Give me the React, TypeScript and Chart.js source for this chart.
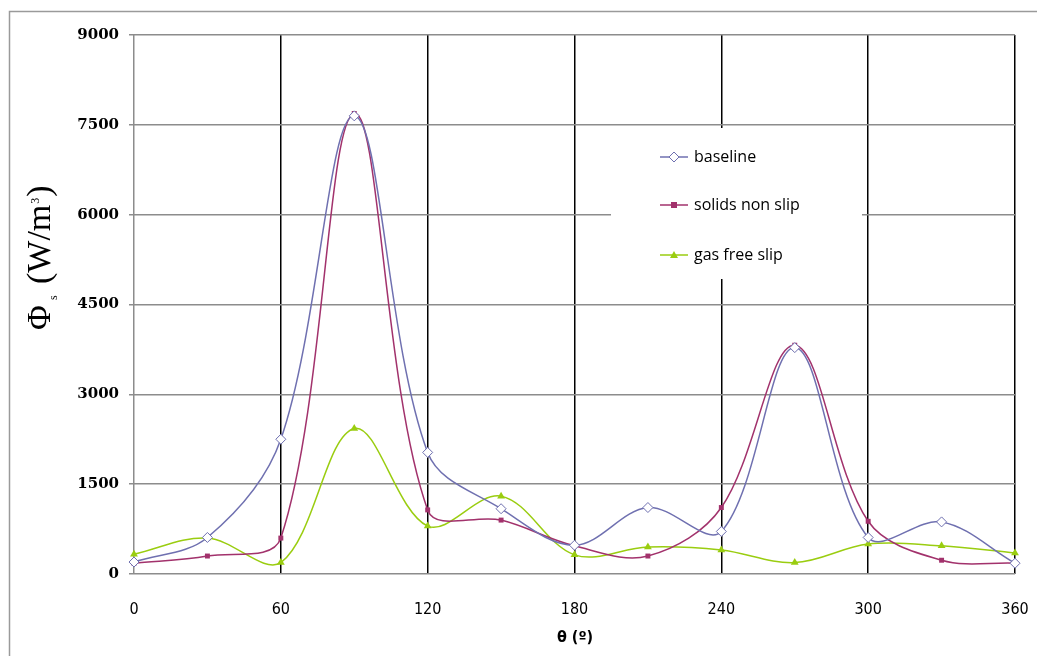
import React, { useEffect, useRef } from "react";
import { Chart, registerables } from "chart.js";

Chart.register(...registerables);

const angles = [0, 30, 60, 90, 120, 150, 180, 210, 240, 270, 300, 330, 360];
const baseline = [200, 610, 2250, 7650, 2030, 1090, 480, 1110, 710, 3780, 610, 870, 180];
const solidsNonSlip = [180, 300, 600, 7690, 1070, 900, 470, 300, 1110, 3820, 880, 230, 180];
const gasFreeSlip = [330, 600, 190, 2430, 800, 1300, 320, 450, 400, 190, 500, 470, 350];
const seriesNames = ["baseline", "solids non slip", "gas free slip"];
const xTicks = [0, 60, 120, 180, 240, 300, 360];
const yTicks = [0, 1500, 3000, 4500, 6000, 7500, 9000];

const colBase = "#6f70b0";
const colSolid = "#a2326c";
const colGas = "#9acd10";

export default function App() {
  const ref = useRef<HTMLCanvasElement | null>(null);
  useEffect(() => {
    document.body.style.margin = "0";
    const canvas = ref.current!;
    const toXY = (arr: number[]) => angles.map((a, i) => ({ x: a, y: arr[i] }));

    const decor = {
      id: "decor",
      beforeDraw(chart: any) {
        const c = chart.ctx;
        c.save();
        c.fillStyle = "#fff";
        c.fillRect(0, 0, chart.width, chart.height);
        c.strokeStyle = "#9a9a9a";
        c.lineWidth = 1.5;
        c.strokeRect(9.5, 11.5, 1100, 800);
        c.restore();
      },
      afterDatasetsDraw(chart: any) {
        const c = chart.ctx;
        c.save();
        // legend box
        c.fillStyle = "#fff";
        c.fillRect(611, 128, 251, 151);
        const items = [
          { name: seriesNames[0], color: colBase, y: 157, marker: "diamond" },
          { name: seriesNames[1], color: colSolid, y: 205, marker: "square" },
          { name: seriesNames[2], color: colGas, y: 255, marker: "triangle" },
        ];
        items.forEach((it) => {
          c.strokeStyle = it.color;
          c.lineWidth = 1.5;
          c.beginPath();
          c.moveTo(660, it.y);
          c.lineTo(688, it.y);
          c.stroke();
          const mx = 674;
          c.beginPath();
          if (it.marker === "diamond") {
            c.moveTo(mx, it.y - 5);
            c.lineTo(mx + 5, it.y);
            c.lineTo(mx, it.y + 5);
            c.lineTo(mx - 5, it.y);
            c.closePath();
            c.fillStyle = "#fff";
            c.fill();
            c.lineWidth = 1;
            c.stroke();
          } else if (it.marker === "square") {
            c.fillStyle = it.color;
            c.fillRect(mx - 3, it.y - 3, 6, 6);
          } else {
            c.moveTo(mx, it.y - 4);
            c.lineTo(mx + 4, it.y + 3);
            c.lineTo(mx - 4, it.y + 3);
            c.closePath();
            c.fillStyle = it.color;
            c.fill();
          }
          c.fillStyle = "#000";
          c.font = "16px 'Open Sans', 'Noto Sans', sans-serif";
          c.textBaseline = "middle";
          c.textAlign = "left";
          c.fillText(it.name, 694, it.y);
        });

        // y-axis title
        c.translate(50, 330);
        c.rotate(-Math.PI / 2);
        c.fillStyle = "#000";
        c.textBaseline = "alphabetic";
        c.textAlign = "left";
        const big = "34px 'Liberation Serif', 'Times New Roman', serif";
        const small = "12px 'Liberation Serif', serif";
        c.font = big;
        c.fillText("\u03A6", 0, 0);
        c.font = small;
        c.fillText("s", 30, 7);
        c.font = big;
        const main = "(W/m";
        c.fillText(main, 46, 0);
        let x = 46 + c.measureText(main).width + 1;
        c.font = small;
        c.fillText("3", x, -11);
        x += c.measureText("3").width + 1;
        c.font = big;
        c.fillText(")", x, 0);
        c.restore();

        // x-axis title
        c.save();
        c.fillStyle = "#000";
        c.font = "bold 16px 'Liberation Sans Narrow', 'DejaVu Sans Condensed', 'Liberation Sans', sans-serif";
        c.textAlign = "center";
        c.textBaseline = "middle";
        c.fillText("\u03B8 (\u00BA)", 575, 638);
        c.restore();
      },
    };

    const chart = new Chart(canvas, {
      type: "line",
      data: {
        datasets: [
          {
            label: seriesNames[0],
            data: toXY(baseline),
            borderColor: colBase,
            backgroundColor: "#ffffff",
            borderWidth: 1.5,
            pointStyle: "rectRot",
            pointRadius: 5,
            pointBorderWidth: 1,
            pointBorderColor: colBase,
            pointBackgroundColor: "#ffffff",
            tension: 0.35,
            clip: false as any,
          },
          {
            label: seriesNames[1],
            data: toXY(solidsNonSlip),
            borderColor: colSolid,
            backgroundColor: colSolid,
            borderWidth: 1.5,
            pointStyle: "rect",
            pointRadius: 3.5,
            pointBorderWidth: 0,
            pointBackgroundColor: colSolid,
            tension: 0.35,
            clip: false as any,
          },
          {
            label: seriesNames[2],
            data: toXY(gasFreeSlip),
            borderColor: colGas,
            backgroundColor: colGas,
            borderWidth: 1.5,
            pointStyle: "triangle",
            pointRadius: 4.5,
            pointBorderWidth: 0,
            pointBackgroundColor: colGas,
            tension: 0.35,
            clip: false as any,
          },
        ],
      },
      options: {
        responsive: false,
        animation: false,
        layout: { padding: { top: 35, right: 22, left: 0, bottom: 0 } },
        plugins: { legend: { display: false }, tooltip: { enabled: false } },
        scales: {
          x: {
            type: "linear",
            min: 0,
            max: 360,
            afterBuildTicks: (s: any) => {
              s.ticks = xTicks.map((v) => ({ value: v }));
            },
            afterFit: (s: any) => {
              s.height = 82;
              s.paddingLeft = 0;
              s.paddingRight = 0;
            },
            ticks: {
              color: "#000",
              padding: 26,
              maxRotation: 0,
              callback: (v: any) => String(v),
              font: { size: 16, family: "'Liberation Sans Narrow', 'DejaVu Sans Condensed', 'Liberation Sans', sans-serif" },
            },
            grid: {
              drawTicks: false,
              color: (ctx: any) => (ctx.tick && ctx.tick.value === 0 ? "#8c8c8c" : "#000"),
              lineWidth: 1.5,
            },
            border: { display: false },
          },
          y: {
            min: 0,
            max: 9000,
            afterBuildTicks: (s: any) => {
              s.ticks = yTicks.map((v) => ({ value: v }));
            },
            afterFit: (s: any) => {
              s.width = 134;
              s.paddingTop = 0;
              s.paddingBottom = 0;
            },
            ticks: {
              color: "#000",
              padding: 10,
              callback: (v: any) => String(v),
              font: { size: 15, weight: "bold", family: "'DejaVu Serif', serif" },
            },
            grid: {
              color: "#8c8c8c",
              lineWidth: 1.5,
              tickLength: 5,
              tickColor: "#8c8c8c",
            },
            border: { display: false },
          },
        },
      },
      plugins: [decor],
    } as any);
    return () => chart.destroy();
  }, []);
  return (
    <div style={{ width: 1037, height: 656 }}>
      <canvas ref={ref} width={1037} height={656} style={{ display: "block" }} />
    </div>
  );
}
